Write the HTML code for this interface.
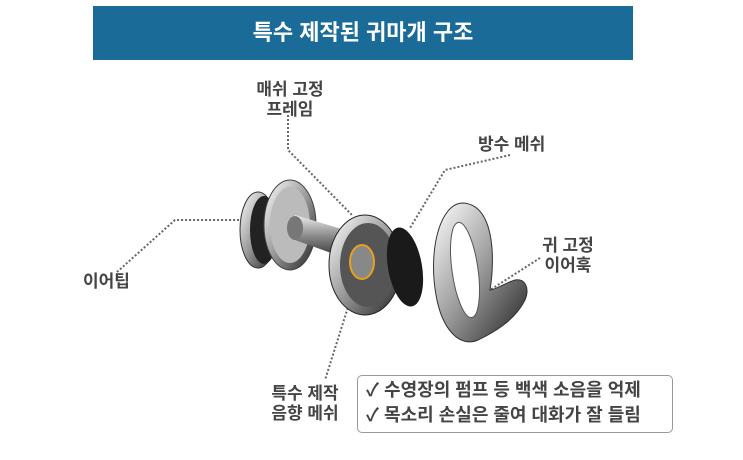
<!DOCTYPE html>
<html><head><meta charset="utf-8"><style>
body{margin:0;width:743px;height:460px;background:#fff;position:relative;overflow:hidden;font-family:"Liberation Sans","Noto Sans CJK KR",sans-serif;}
.t{position:absolute;color:#444;font-weight:bold;font-size:17px;line-height:20px;text-align:center;white-space:nowrap}
#bar{position:absolute;left:93px;top:6px;width:540px;height:54px;background:#1b6b98;color:#fff;font-weight:bold;font-size:22px;line-height:54px;text-align:center}
#box{position:absolute;left:357px;top:375px;width:316px;height:58px;border:1px solid #999;border-radius:5px;box-sizing:border-box;font-size:18px;font-weight:bold;color:#444;line-height:25px;padding:2px 0 0 8px;white-space:nowrap}
</style></head><body>
<div id="bar">특수 제작된 귀마개 구조</div>
<svg width="743" height="460" style="position:absolute;left:0;top:0">
<defs>
<linearGradient id="m" x1="0" y1="0" x2="1" y2="1"><stop offset="0" stop-color="#fff"/><stop offset=".5" stop-color="#999"/><stop offset="1" stop-color="#222"/></linearGradient>
<linearGradient id="m2" x1="0" y1="0" x2="0" y2="1"><stop offset="0" stop-color="#eee"/><stop offset=".5" stop-color="#888"/><stop offset="1" stop-color="#333"/></linearGradient>
</defs>
<g fill="none" stroke="#666" stroke-width="2" stroke-dasharray="2,2">
<polyline points="117,272 175,220 250,220"/>
<polyline points="288,115 288,150 352,215"/>
<polyline points="510,155 445,170 410,228"/>
<polyline points="540,258 490,290"/>
<polyline points="355,285 325,380"/>
</g>
<!-- ear tip -->
<ellipse cx="258" cy="230" rx="18" ry="38" fill="url(#m)" stroke="#333"/>
<ellipse cx="264" cy="230" rx="14" ry="34" fill="#222"/>
<ellipse cx="290" cy="225" rx="26" ry="45" fill="url(#m)" stroke="#444"/>
<ellipse cx="290" cy="225" rx="20" ry="38" fill="#bbb"/>
<polygon points="295,215 345,230 345,258 295,240" fill="url(#m2)"/>
<ellipse cx="295" cy="228" rx="8" ry="12" fill="#777"/>
<!-- frame -->
<ellipse cx="365" cy="265" rx="36" ry="50" fill="url(#m)" stroke="#222"/>
<ellipse cx="368" cy="265" rx="28" ry="42" fill="#555"/>
<ellipse cx="362" cy="262" rx="12" ry="17" fill="#888" stroke="#e8a020" stroke-width="2"/>
<!-- mesh -->
<ellipse cx="405" cy="267" rx="17" ry="40" transform="rotate(-10 405 267)" fill="#1a1a1a"/>
<!-- ear hook -->
<path d="M463,203 C440,203 428,250 436,295 C442,330 460,348 478,340 C495,332 515,320 525,300 C530,288 525,278 515,280 C505,283 495,290 490,290 C495,260 495,205 463,203 Z" fill="url(#m)" stroke="#333"/>
<ellipse cx="465" cy="270" rx="13" ry="48" transform="rotate(-8 465 270)" fill="#fff" stroke="#555"/>
</svg>
<div class="t" style="left:250px;top:80px;width:80px">매쉬 고정<br>프레임</div>
<div class="t" style="left:478px;top:135px">방수 메쉬</div>
<div class="t" style="left:530px;top:236px;width:76px">귀 고정<br>이어훅</div>
<div class="t" style="left:83px;top:272px">이어팁</div>
<div class="t" style="left:262px;top:384px;width:86px">특수 제작<br>음향 메쉬</div>
<div id="box">✓ 수영장의 펌프 등 백색 소음을 억제<br>✓ 목소리 손실은 줄여 대화가 잘 들림</div>
</body></html>
